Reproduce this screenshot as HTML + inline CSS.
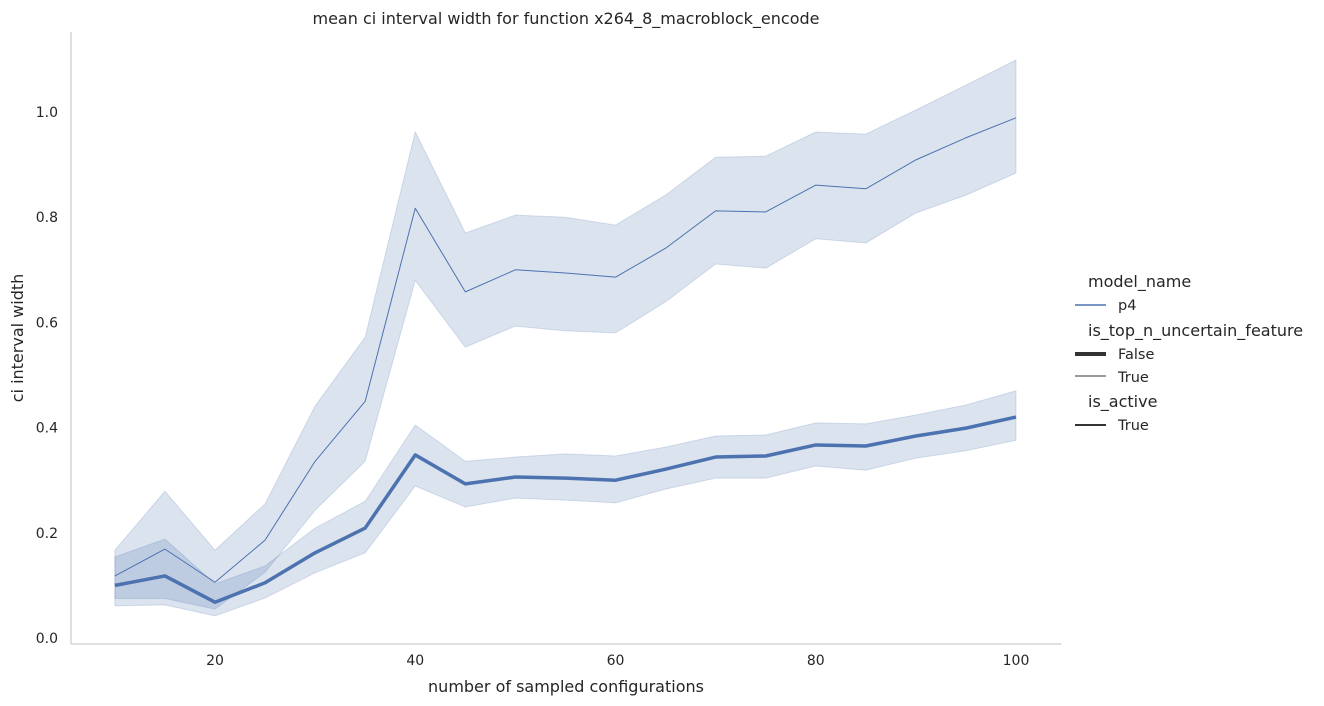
<!DOCTYPE html>
<html><head><meta charset="utf-8"><style>
body{margin:0;background:#fff;}
svg{display:block;font-family:"DejaVu Sans","Liberation Sans",sans-serif;fill:#262626;}
</style></head><body>
<svg id="chart" width="1324" height="706">
<text x="566" y="24" text-anchor="middle" font-size="16">mean ci interval width for function x264_8_macroblock_encode</text>
<g id="bands"></g><g id="lines"></g><g id="axes"></g>
<text x="566" y="692" text-anchor="middle" font-size="16">number of sampled configurations</text>
<text transform="translate(23,338) rotate(-90)" text-anchor="middle" font-size="16">ci interval width</text>
<g font-size="14.5">
<text x="1088" y="287" font-size="16">model_name</text>
<line x1="1075" y1="305" x2="1106" y2="305" stroke="#4c72b0" stroke-width="1.5"/>
<text x="1118" y="310">p4</text>
<text x="1088" y="336" font-size="16">is_top_n_uncertain_feature</text>
<line x1="1075" y1="354" x2="1106" y2="354" stroke="#333" stroke-width="4"/>
<text x="1118" y="359">False</text>
<line x1="1075" y1="376" x2="1106" y2="376" stroke="#333" stroke-width="1"/>
<text x="1118" y="382">True</text>
<text x="1088" y="407" font-size="16">is_active</text>
<line x1="1075" y1="425" x2="1106" y2="425" stroke="#333" stroke-width="2"/>
<text x="1118" y="430">True</text>
</g>
</svg>
<script>
const xs=[10,15,20,25,30,35,40,45,50,55,60,65,70,75,80,85,90,95,100];
const trueMean=[0.118,0.169,0.106,0.186,0.336,0.45,0.817,0.658,0.70,0.694,0.686,0.741,0.812,0.81,0.861,0.854,0.909,0.951,0.989];
const trueHigh=[0.167,0.279,0.167,0.255,0.441,0.572,0.962,0.77,0.804,0.80,0.785,0.842,0.914,0.916,0.962,0.958,1.004,1.051,1.099];
const trueLow=[0.075,0.075,0.055,0.125,0.243,0.336,0.68,0.553,0.593,0.584,0.58,0.639,0.711,0.703,0.759,0.751,0.808,0.842,0.884];
const falseMean=[0.10,0.118,0.068,0.105,0.162,0.209,0.348,0.293,0.306,0.304,0.30,0.321,0.344,0.346,0.367,0.365,0.384,0.399,0.42];
const falseHigh=[0.154,0.188,0.103,0.137,0.209,0.26,0.405,0.336,0.344,0.35,0.346,0.363,0.384,0.386,0.409,0.407,0.424,0.443,0.47];
const falseLow=[0.061,0.063,0.042,0.076,0.124,0.162,0.289,0.249,0.266,0.262,0.257,0.283,0.304,0.304,0.327,0.319,0.342,0.356,0.376];
const xTicks=[20,40,60,80,100];
const yTicks=[0.0,0.2,0.4,0.6,0.8,1.0];
const NS='http://www.w3.org/2000/svg';
const X=v=>215+(v-20)*(1016-215)/80;
const Y=v=>638-v*526;
function mk(tag,attrs,parent){const e=document.createElementNS(NS,tag);for(const k in attrs)e.setAttribute(k,attrs[k]);parent.appendChild(e);return e;}
const bands=document.getElementById('bands'),lines=document.getElementById('lines'),axes=document.getElementById('axes');
function band(hi,lo,name){
  let d=xs.map((x,i)=>(i?'L':'M')+X(x)+','+Y(hi[i])).join('');
  for(let i=xs.length-1;i>=0;i--)d+='L'+X(xs[i])+','+Y(lo[i]);
  const p=mk('path',{d:d+'Z',fill:'#4c72b0','fill-opacity':0.2,stroke:'#4c72b0','stroke-opacity':0.2},bands);
  
  
}
function line(m,w,name){
  const d=xs.map((x,i)=>(i?'L':'M')+X(x)+','+Y(m[i])).join('');
  const p=mk('path',{d:d,fill:'none',stroke:'#4c72b0','stroke-width':w,'stroke-linejoin':'round'},lines);
  
  
}
band(trueHigh,trueLow,'ci-band-true');
band(falseHigh,falseLow,'ci-band-false');
line(trueMean,1,'line-true');
line(falseMean,3.5,'line-false');
const yl=mk('line',{x1:71,y1:32,x2:71,y2:644,stroke:'#ccc','stroke-width':1.25},axes);


const xl=mk('line',{x1:71,y1:644,x2:1061,y2:644,stroke:'#ccc','stroke-width':1.25},axes);


xTicks.forEach(t=>{const e=mk('text',{x:X(t),y:665,'text-anchor':'middle','font-size':14},axes);e.textContent=t;

});
yTicks.forEach(t=>{const e=mk('text',{x:58,y:Y(t)+5,'text-anchor':'end','font-size':14},axes);e.textContent=t.toFixed(1);

});
</script>
</body></html>
